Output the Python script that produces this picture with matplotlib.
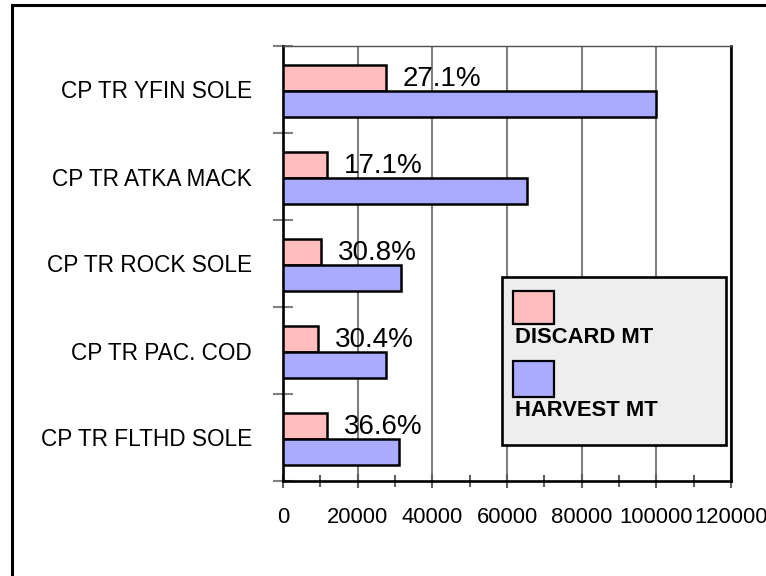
import matplotlib
matplotlib.use("Agg")
import matplotlib.pyplot as plt
from matplotlib.patches import Rectangle
import numpy as np

categories = ["CP TR YFIN SOLE", "CP TR ATKA MACK", "CP TR ROCK SOLE",
              "CP TR PAC. COD", "CP TR FLTHD SOLE"]
discard_mt = [27500, 11700, 10100, 9460, 11700]
harvest_mt = [99800, 65300, 31600, 27600, 31000]
pct_labels = ["27.1%", "17.1%", "30.8%", "30.4%", "36.6%"]
x_ticks = [0, 20000, 40000, 60000, 80000, 100000, 120000]
x_ticklabels = ["0", "20000", "40000", "60000", "80000", "100000", "120000"]
legend_labels = ["DISCARD MT", "HARVEST MT"]

plt.rcParams['font.family'] = ['Liberation Sans', 'DejaVu Sans']

W, H = 766, 576
fig = plt.figure(figsize=(W / 100, H / 100), dpi=100)

def fx(px):
    return px / W

def fy(py):
    return 1 - py / H

ax = fig.add_axes([fx(283), fy(481), fx(731) - fx(283), fy(46) - fy(481)])

pink = '#FFBDBD'
blue = '#AAAAFF'
y = np.arange(len(categories))
bh = 0.294
ax.barh(y - 0.13, discard_mt, height=bh, color=pink, edgecolor='black',
        linewidth=1.8, zorder=3)
ax.barh(y + 0.165, harvest_mt, height=bh, color=blue, edgecolor='black',
        linewidth=1.8, zorder=3)

for yi, d, lab in zip(y, discard_mt, pct_labels):
    ax.annotate(lab, xy=(d, yi - 0.13), xytext=(12.2, -5.3),
                textcoords='offset points', ha='left', va='baseline',
                fontsize=20, zorder=4)

ax.set_xlim(0, 120000)
ax.set_ylim(len(categories) - 0.5, -0.5)

ax.set_xticks(x_ticks)
ax.set_xticklabels(x_ticklabels, fontsize=15.8)
ax.set_xticks(np.arange(10000, 120000, 20000), minor=True)
ax.tick_params(axis='x', which='major', direction='inout', length=10,
               width=1.5, color='#606060', pad=13.5)
ax.tick_params(axis='x', which='minor', direction='inout', length=8,
               width=1.5, color='#606060')

ax.set_yticks(y)
ax.set_yticklabels(categories, fontsize=16.3)
ax.set_yticks(np.arange(-0.5, len(categories), 1.0), minor=True)
ax.tick_params(axis='y', which='major', length=0, pad=22.3)
ax.tick_params(axis='y', which='minor', direction='inout', length=14.4,
               width=1.5, color='#808080')

ax.grid(axis='x', which='major', color='#808080', linewidth=1.5, zorder=0)
ax.set_axisbelow(True)

for s in ['left', 'bottom', 'right']:
    ax.spines[s].set_color('black')
    ax.spines[s].set_linewidth(1.9)
ax.spines['top'].set_color('#505050')
ax.spines['top'].set_linewidth(1.0)

# Legend drawn in pixel coordinates
def rect_px(x0, y0, x1, y1, **kw):
    r = Rectangle((fx(x0), fy(y1)), fx(x1) - fx(x0), fy(y0) - fy(y1),
                  transform=fig.transFigure, **kw)
    fig.patches.append(r)
    return r

rect_px(501.7, 277, 726, 445, facecolor='#EEEEEE', edgecolor='black',
        linewidth=1.9, zorder=10)
rect_px(513, 291, 554, 324, facecolor=pink, edgecolor='black',
        linewidth=1.6, zorder=11)
rect_px(513, 361, 554, 397, facecolor=blue, edgecolor='black',
        linewidth=1.6, zorder=11)
fig.text(fx(515), fy(343), legend_labels[0], fontsize=15.8, fontweight='bold',
         ha='left', va='baseline', zorder=12)
fig.text(fx(515), fy(415.7), legend_labels[1], fontsize=15.8, fontweight='bold',
         ha='left', va='baseline', zorder=12)

# Outer frame (right/bottom edges lie outside the picture)
rect_px(11.5, 5, 790, 600, facecolor='none', edgecolor='black',
        linewidth=2.2, zorder=20)

fig.savefig("out.png", dpi=100)
